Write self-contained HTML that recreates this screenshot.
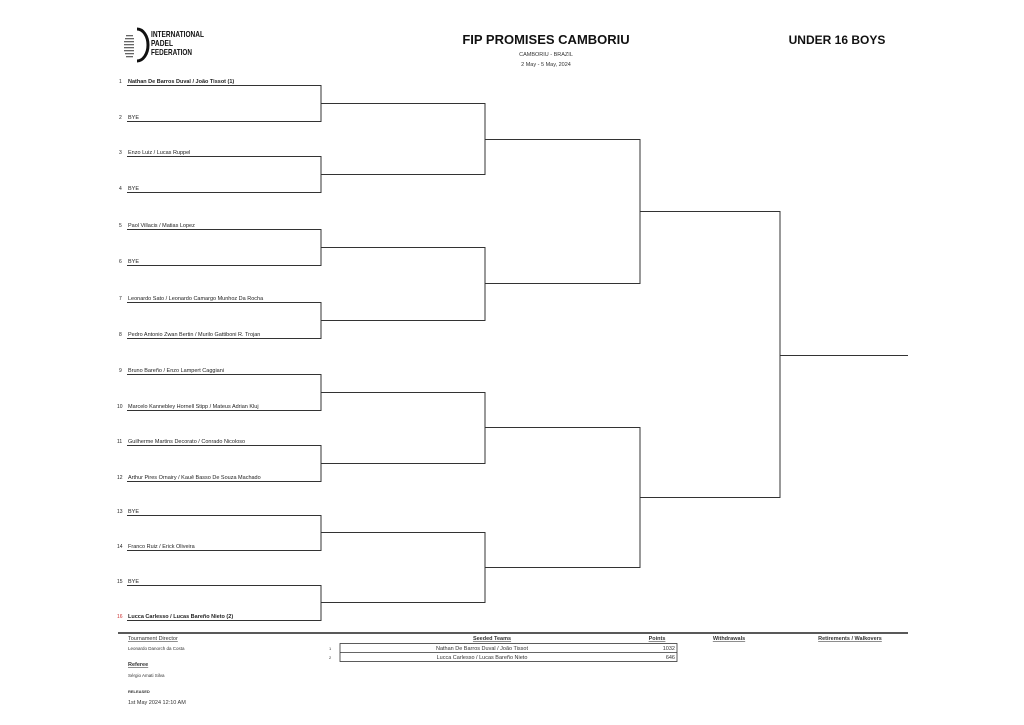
<!DOCTYPE html>
<html><head><meta charset="utf-8"><style>
html,body{margin:0;padding:0;background:#fff;}
svg{display:block;font-family:"Liberation Sans",sans-serif;}
.n{font-size:5px;fill:#222}
.t{font-size:5.5px;fill:#222}
.b{font-weight:bold}
</style></head><body>
<svg width="1024" height="725" viewBox="0 0 1024 725" xmlns="http://www.w3.org/2000/svg">
<g>
<path d="M137 29 A11 16 0 0 1 137 61" stroke="#111" stroke-width="3" fill="none"/>
<g fill="#666">
<rect x="126" y="35" width="7" height="1.3"/><rect x="125" y="38" width="9" height="1.3"/><rect x="124" y="41" width="10" height="1.3"/><rect x="124" y="44" width="10" height="1.3"/><rect x="124" y="47" width="10" height="1.3"/><rect x="124" y="50" width="10" height="1.3"/><rect x="125" y="53" width="9" height="1.3"/><rect x="126" y="56" width="7" height="1.3"/>
</g>
<text x="151" y="37" font-size="8.5" font-weight="bold" fill="#111" textLength="53" lengthAdjust="spacingAndGlyphs">INTERNATIONAL</text>
<text x="151" y="46" font-size="8.5" font-weight="bold" fill="#111" textLength="22" lengthAdjust="spacingAndGlyphs">PADEL</text>
<text x="151" y="55" font-size="8.5" font-weight="bold" fill="#111" textLength="41" lengthAdjust="spacingAndGlyphs">FEDERATION</text>
</g>
<text x="546" y="44" text-anchor="middle" font-size="13" font-weight="bold" fill="#111">FIP PROMISES CAMBORIU</text>
<text x="837" y="44" text-anchor="middle" font-size="12" font-weight="bold" fill="#111">UNDER 16 BOYS</text>
<text x="546" y="56" text-anchor="middle" font-size="5.5" fill="#333">CAMBORIU - BRAZIL</text>
<text x="546" y="66" text-anchor="middle" font-size="5.5" fill="#333">2 May - 5 May, 2024</text>

<g stroke="#333" stroke-width="1" fill="none">
<path d="M127 85.5H321V121.5H127M127 156.5H321V192.5H127M127 229.5H321V265.5H127M127 302.5H321V338.5H127M127 374.5H321V410.5H127M127 445.5H321V481.5H127M127 515.5H321V550.5H127M127 585.5H321V620.5H127"/>
<path d="M321 103.5H485V174.5H321M321 247.5H485V320.5H321M321 392.5H485V463.5H321M321 532.5H485V602.5H321"/>
<path d="M485 139.5H640V283.5H485M485 427.5H640V567.5H485"/>
<path d="M640 211.5H780V497.5H640"/>
<path d="M780 355.5H908"/>
</g>

<g class="t">
<text x="119" y="83" class="n">1</text><text x="128" y="83" class="b">Nathan De Barros Duval / João Tissot (1)</text>
<text x="119" y="119" class="n">2</text><text x="128" y="119">BYE</text>
<text x="119" y="154" class="n">3</text><text x="128" y="154">Enzo Luiz / Lucas Ruppel</text>
<text x="119" y="190" class="n">4</text><text x="128" y="190">BYE</text>
<text x="119" y="227" class="n">5</text><text x="128" y="227">Paol Villacis / Matias Lopez</text>
<text x="119" y="263" class="n">6</text><text x="128" y="263">BYE</text>
<text x="119" y="300" class="n">7</text><text x="128" y="300">Leonardo Sato / Leonardo Camargo Munhoz Da Rocha</text>
<text x="119" y="336" class="n">8</text><text x="128" y="336">Pedro Antonio Zwan Bertin / Murilo Gattiboni R. Trojan</text>
<text x="119" y="372" class="n">9</text><text x="128" y="372">Bruno Bareño / Enzo Lampert Caggiani</text>
<text x="117" y="408" class="n">10</text><text x="128" y="408">Marcelo Kannebley Hornell Stipp / Mateus Adrian Kluj</text>
<text x="117" y="443" class="n">11</text><text x="128" y="443">Guilherme Martins Decorato / Conrado Nicoloso</text>
<text x="117" y="479" class="n">12</text><text x="128" y="479">Arthur Pires Ornairy / Kauê Basso De Souza Machado</text>
<text x="117" y="513" class="n">13</text><text x="128" y="513">BYE</text>
<text x="117" y="548" class="n">14</text><text x="128" y="548">Franco Ruiz / Erick Oliveira</text>
<text x="117" y="583" class="n">15</text><text x="128" y="583">BYE</text>
<text x="117" y="618" class="n" style="fill:#c33">16</text><text x="128" y="618" class="b">Lucca Carlesso / Lucas Bareño Nieto (2)</text>
</g>

<line x1="118" y1="633" x2="908" y2="633" stroke="#222" stroke-width="1.5"/>
<g font-size="5.5" fill="#333">
<text x="128" y="640" text-decoration="underline">Tournament Director</text>
<text x="128" y="650" font-size="4.5">Leonardo Danorch da Costa</text>
<text x="128" y="666" font-weight="bold" text-decoration="underline">Referee</text>
<text x="128" y="677" font-size="4.5">Sérgio Amati Silva</text>
<text x="128" y="693" font-size="4" font-weight="bold">RELEASED</text>
<text x="128" y="704">1st May 2024 12:10 AM</text>
<text x="492" y="640" text-anchor="middle" font-weight="bold" text-decoration="underline">Seeded Teams</text>
<text x="657" y="640" text-anchor="middle" font-weight="bold" text-decoration="underline">Points</text>
<text x="729" y="640" text-anchor="middle" font-weight="bold" text-decoration="underline">Withdrawals</text>
<text x="850" y="640" text-anchor="middle" font-weight="bold" text-decoration="underline">Retirements / Walkovers</text>
<text x="329" y="650" font-size="4">1</text>
<text x="329" y="659" font-size="4">2</text>
<text x="482" y="650" text-anchor="middle">Nathan De Barros Duval / João Tissot</text>
<text x="482" y="659" text-anchor="middle">Lucca Carlesso / Lucas Bareño Nieto</text>
<text x="675" y="650" text-anchor="end">1032</text>
<text x="675" y="659" text-anchor="end">646</text>
</g>
<g stroke="#333" stroke-width="0.8" fill="none">
<rect x="340" y="643.5" width="337" height="18"/>
<line x1="340" y1="652.5" x2="677" y2="652.5"/>
</g>
</svg>
</body></html>
